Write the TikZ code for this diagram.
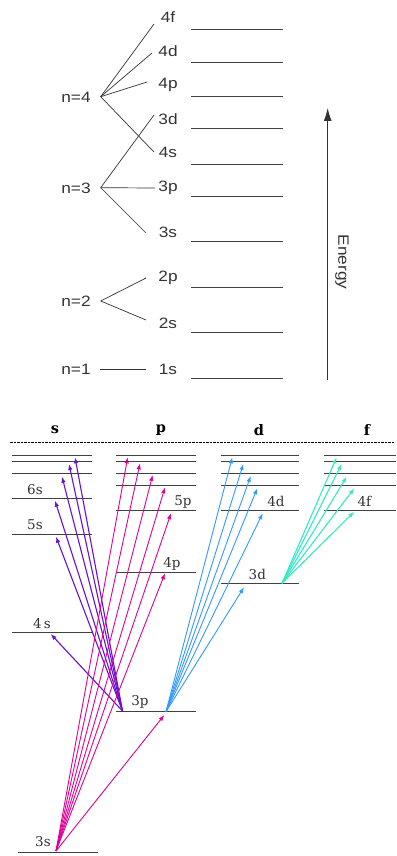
\documentclass[tikz,border=0pt]{standalone}
\usepackage{fontspec}
\setmainfont{DejaVu Serif}
\newfontfamily\topfont[FakeStretch=1.15]{Liberation Sans}
\usetikzlibrary{arrows.meta}
\definecolor{cs}{HTML}{6A10D4}
\definecolor{cp}{HTML}{DD0099}
\definecolor{cd}{HTML}{3399FF}
\definecolor{cf}{HTML}{33EAC6}
\begin{document}
\begin{tikzpicture}[x=1pt,y=-1pt,
  toplvl/.style={line width=0.9pt,black!75},
  toplbl/.style={font=\topfont\fontsize{15}{15}\selectfont,inner sep=0pt,text=black!80},
  branch/.style={line width=0.7pt,black!80},
  lvl/.style={line width=1pt,black!75},
  hdr/.style={font=\bfseries\fontsize{14.5}{14.5}\selectfont,inner sep=0pt},
  blbl/.style={font=\fontsize{13.5}{13.5}\selectfont,inner sep=0pt,text=black!80},
  tip/.style={-{Latex[length=6pt,width=4.5pt]}},
  sarr/.style={tip,cs,line width=1.1pt},
  parr/.style={tip,cp,line width=0.9pt},
  darr/.style={tip,cd,line width=0.9pt},
  farr/.style={tip,cf,line width=1.1pt}]
\useasboundingbox[fill=white] (0,0) rectangle (396,856);

% ---------- top diagram ----------
\foreach \y [count=\i] in {29.3,62,96.3,128,164.3,196.3,241.7,287.3,332.7,378.3}{
  \coordinate (tl\i) at (191,\y); \coordinate (tr\i) at (283,\y);
  \draw[toplvl] (tl\i) -- (tr\i);
}
\node[toplbl] (l4f) at (168,17) {4f};
\node[toplbl] (l4d) at (168,51) {4d};
\node[toplbl] (l4p) at (168,85) {4p};
\node[toplbl] (l3d) at (168,119) {3d};
\node[toplbl] (l4s) at (168,152) {4s};
\node[toplbl] (l3p) at (168,188) {3p};
\node[toplbl] (l3s) at (168,232) {3s};
\node[toplbl] (l2p) at (168,278) {2p};
\node[toplbl] (l2s) at (168,323) {2s};
\node[toplbl] (l1s) at (168,369) {1s};
\node[toplbl] (n4) at (76,97) {n=4};
\node[toplbl] (n3) at (76,188) {n=3};
\node[toplbl] (n2) at (76,301) {n=2};
\node[toplbl] (n1) at (76,369) {n=1};
\coordinate (b4) at (100.7,96.7);
\coordinate (b3) at (100.7,187.7);
\coordinate (b2) at (100.7,301);
\coordinate (b1) at (100,369);
\coordinate (e4f) at (154,24);
\coordinate (e4d) at (152,53);
\coordinate (e4p) at (147,82);
\coordinate (e4s) at (154,152);
\coordinate (e3d) at (154,115);
\coordinate (e3p) at (155,188);
\coordinate (e3s) at (146,233);
\coordinate (e2p) at (146,278);
\coordinate (e2s) at (146,320);
\coordinate (e1s) at (146,369);
\foreach \e in {e4f,e4d,e4p,e4s}{\draw[branch] (b4) -- (\e);}
\foreach \e in {e3d,e3p,e3s}{\draw[branch] (b3) -- (\e);}
\foreach \e in {e2p,e2s}{\draw[branch] (b2) -- (\e);}
\draw[branch] (b1) -- (e1s);
\coordinate (eb) at (327.7,380);
\coordinate (et) at (327.7,108);
\draw[line width=0.9pt,black!80,-{Latex[length=13pt,width=8pt]}] (eb) -- (et);
\node[toplbl,rotate=-90] (energy) at (342,262) {Energy};

% ---------- bottom diagram ----------
\node[hdr] (hs) at (55,430) {s};
\node[hdr] (hp) at (161,430) {p};
\node[hdr] (hd) at (259,430) {d};
\node[hdr] (hf) at (367,430) {f};
\coordinate (dl) at (10,442.7); \coordinate (dr) at (394,442.7);
\draw[line width=1.2pt,dash pattern=on 2.5pt off 1pt] (dl) -- (dr);

% s levels
\foreach \y [count=\i] in {455,461.7,473.3,498.3,534,632.3}{
  \coordinate (sl\i) at (12,\y); \coordinate (sr\i) at (92,\y);
  \draw[lvl] (sl\i) -- (sr\i);}
\coordinate (s3sl) at (18,852.3); \coordinate (s3sr) at (98,852.3);
\draw[lvl] (s3sl) -- (s3sr);
% p levels
\foreach \y [count=\i] in {455,461.7,473.3,485.7,510.3,572,711.7}{
  \coordinate (pl\i) at (116,\y); \coordinate (pr\i) at (196,\y);
  \draw[lvl] (pl\i) -- (pr\i);}
% d levels
\foreach \y [count=\i] in {455,461.7,473.3,485.7,510.3,583.3}{
  \coordinate (dl\i) at (220.7,\y); \coordinate (dr\i) at (299.3,\y);
  \draw[lvl] (dl\i) -- (dr\i);}
% f levels
\foreach \y [count=\i] in {455,461.7,473.3,485.7,510.3}{
  \coordinate (fl\i) at (324.3,\y); \coordinate (fr\i) at (396,\y);
  \draw[lvl] (fl\i) -- (fr\i);}

% labels
\node[blbl] (b6s) at (35,490) {6s};
\node[blbl] (b5s) at (35,525) {5s};
\node[blbl] (b4s) at (42,624) {4\,s};
\node[blbl] (b3s) at (43,842) {3s};
\node[blbl] (b5p) at (183,502) {5p};
\node[blbl] (b4p) at (172,563.5) {4p};
\node[blbl] (b3p) at (140,702) {3p};
\node[blbl] (b4d) at (276,501) {4d};
\node[blbl] (b3d) at (257.3,574) {3d};
\node[blbl] (b4f) at (364.3,501) {4f};

% origins
\coordinate (o3p) at (122.5,711);
\coordinate (o3s) at (56,851);
\coordinate (o3pd) at (166,711.7);
\coordinate (o3d) at (282,583.3);

% s arrows (from 3p)
\foreach \x/\y [count=\i] in {75/457.3,69/464,62/476.7,55/500.7,56/536.7,50.7/634}{
  \coordinate (ts\i) at (\x,\y); \draw[sarr] (o3p) -- (ts\i);}
% p arrows (from 3s)
\foreach \x/\y [count=\i] in {127.7/457.3,140/463.3,152.7/475,165/487.3,171/513.3,165/573.3,164.3/715}{
  \coordinate (tp\i) at (\x,\y); \draw[parr] (o3s) -- (tp\i);}
% d arrows (from 3p)
\foreach \x/\y [count=\i] in {232.3/457.3,243.3/464,250.7/476,257.3/488.3,262.7/513.3,244/587.3}{
  \coordinate (td\i) at (\x,\y); \draw[darr] (o3pd) -- (td\i);}
% f arrows (from 3d)
\foreach \x/\y [count=\i] in {336.7/457.3,341.7/464,346.7/476.7,354.3/488.3,354.3/511.7}{
  \coordinate (tf\i) at (\x,\y); \draw[farr] (o3d) -- (tf\i);}
\end{tikzpicture}
\end{document}
